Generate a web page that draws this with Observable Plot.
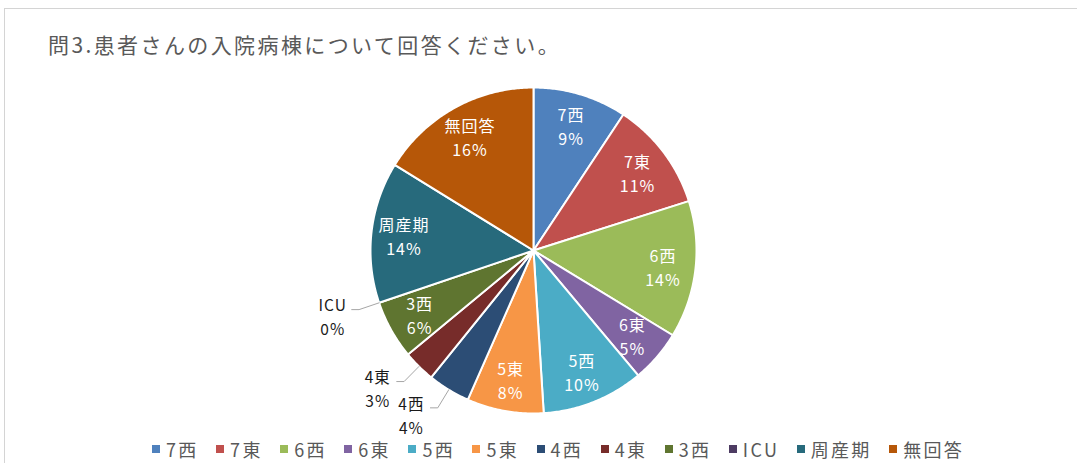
<!DOCTYPE html>
<html>
<head>
<meta charset="utf-8">
<script src="https://cdn.jsdelivr.net/npm/d3@7"></script>
<script src="https://cdn.jsdelivr.net/npm/@observablehq/plot@0.6"></script>
<style>
  html, body { margin: 0; padding: 0; background: #fff; overflow: hidden; }
  #wrap { position: relative; width: 1077px; height: 463px; font-family: 'Noto Sans CJK JP', 'Noto Sans', sans-serif; }
  #frame { position: absolute; left: 4px; top: 8px; width: 1200px; height: 600px; border: 1px solid #d4d4d4; box-sizing: border-box; }
  #title { position: absolute; left: 48px; top: 30px; font-size: 21px; letter-spacing: 2.4px; color: #595959; line-height: 28px; white-space: nowrap; }
  #chart { position: absolute; left: 0; top: 70px; }
  #chart svg text { letter-spacing: 1px; }
  #legend { position: absolute; left: 152px; top: 437px; display: flex; align-items: center; white-space: nowrap; font-size: 18px; color: #595959; letter-spacing: 2.3px; line-height: 24px; }
  #legend .item { display: flex; align-items: center; margin-right: 17.5px; }
  #legend .sw { width: 8px; height: 8px; margin-right: 6px; }
</style>
</head>
<body>
<div id="wrap">
  <div id="frame"></div>
  <div id="title">問3.患者さんの入院病棟について回答ください。</div>
  <div id="chart"></div>
  <div id="legend"></div>
</div>
<script>
// ---- data ----
const names  = ["7西", "7東", "6西", "6東", "5西", "5東", "4西", "4東", "3西", "ICU", "周産期", "無回答"];
const values = [9.3, 10.8, 13.6, 5.2, 10.1, 7.6, 4.2, 3.2, 5.8, 0, 14.0, 16.2];
const colors = ["#4F81BD", "#C0504D", "#9BBB59", "#8064A2", "#4BACC6", "#F79646", "#2C4D75", "#772C2A", "#5F7530", "#4D3B62", "#276A7C", "#B65708"];
const outsideNames = ["4西", "4東", "ICU"];

// ---- geometry (unit circle, clockwise from top) ----
const R = 163, cx = 533, cy = 180, W = 1077, H = 360;
const total = d3.sum(values);
let acc = 0;
const slices = names.map((name, i) => {
  const a0 = acc / total * 2 * Math.PI;
  acc += values[i];
  const a1 = acc / total * 2 * Math.PI;
  return {name, value: values[i], a0, a1, mid: (a0 + a1) / 2, pct: Math.round(values[i] / total * 100)};
});

const poly = [];
for (const s of slices) {
  if (s.value <= 0) continue;
  const n = Math.max(4, Math.ceil((s.a1 - s.a0) / 0.01));
  poly.push({name: s.name, x: 0, y: 0});
  for (let k = 0; k <= n; k++) {
    const t = s.a0 + (s.a1 - s.a0) * k / n;
    poly.push({name: s.name, x: Math.sin(t), y: Math.cos(t)});
  }
  poly.push({name: s.name, x: 0, y: 0});
}

const inside = slices.filter(s => !outsideNames.includes(s.name)).map(s => ({
  x: 0.8 * Math.sin(s.mid), y: 0.8 * Math.cos(s.mid), text: `${s.name}\n${s.pct}%`
}));
const outside = [];
const leaders = [];
for (const s of slices.filter(s => outsideNames.includes(s.name))) {
  const p1 = {x: Math.sin(s.mid), y: Math.cos(s.mid)};
  const p2 = {x: 1.13 * Math.sin(s.mid), y: 1.13 * Math.cos(s.mid)};
  const p3 = {x: p2.x - 0.045, y: p2.y};
  leaders.push({name: s.name, ...p1}, {name: s.name, ...p2}, {name: s.name, ...p3});
  outside.push({...p3, text: `${s.name}\n${s.pct}%`});
}

const plot = Plot.plot({
  width: W, height: H, margin: 0,
  x: {domain: [-cx / R, (W - cx) / R], axis: null},
  y: {domain: [-(H - cy) / R, cy / R], axis: null},
  color: {type: "ordinal", domain: names, range: colors},
  style: {fontFamily: "'Noto Sans CJK JP', 'Noto Sans', sans-serif", background: "transparent", overflow: "visible"},
  marks: [
    Plot.line(poly, {x: "x", y: "y", z: "name", fill: "name", stroke: "white", strokeWidth: 2, strokeLinejoin: "round", curve: "linear"}),
    Plot.line(leaders, {x: "x", y: "y", z: "name", stroke: "#A6A6A6", strokeWidth: 1}),
    Plot.text(inside, {x: "x", y: "y", text: "text", fill: "white", fontSize: 16, lineHeight: 1.5}),
    Plot.text(outside, {x: "x", y: "y", text: "text", fill: "#1a1a1a", fontSize: 15.5, lineHeight: 1.55, dx: -19, dy: 6})
  ]
});
document.getElementById("chart").appendChild(plot);

// ---- legend ----
const legend = document.getElementById("legend");
names.forEach((n, i) => {
  const item = document.createElement("div");
  item.className = "item";
  const sw = document.createElement("div");
  sw.className = "sw";
  sw.style.background = colors[i];
  const t = document.createElement("span");
  t.textContent = n;
  item.appendChild(sw); item.appendChild(t);
  legend.appendChild(item);
});
</script>
</body>
</html>
